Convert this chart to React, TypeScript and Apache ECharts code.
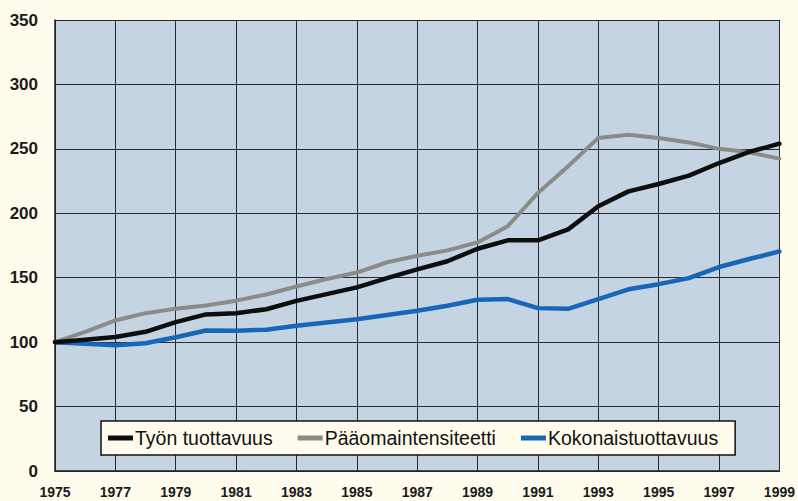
import React, { useEffect, useRef } from "react";
import * as echarts from "echarts";

const years = [
  "1975", "1976", "1977", "1978", "1979", "1980", "1981", "1982", "1983", "1984",
  "1985", "1986", "1987", "1988", "1989", "1990", "1991", "1992", "1993", "1994",
  "1995", "1996", "1997", "1998", "1999",
];

const tyonTuottavuus = [
  100, 101.8, 104, 108, 115.5, 121.5, 122.5, 125.5, 132, 137.3,
  142.5, 149.7, 156.5, 162.8, 172.5, 179, 179, 187.5, 205.5, 217,
  222.7, 229.2, 239, 247.6, 254,
];

const paaomaintensiteetti = [
  100, 108, 116.8, 122.5, 126, 128.5, 132.2, 137, 143.2, 149,
  154, 162, 167, 171.2, 177.4, 190, 215.8, 236.5, 258.5, 261,
  258.5, 255, 250, 247.3, 242.4,
];

const kokonaistuottavuus = [
  100, 98.7, 97.6, 99.2, 103.8, 109, 108.8, 109.7, 112.7, 115.2,
  117.8, 121, 124.3, 128.2, 132.9, 133.4, 126.4, 125.9, 133.4, 141,
  145, 149.7, 158.3, 164.5, 170.4,
];

const seriesNames = ["Työn tuottavuus", "Pääomaintensiteetti", "Kokonaistuottavuus"];
const seriesColors = ["#0e0e0e", "#8b8b87", "#1766b8"];

const FONT = "'Liberation Sans', Arial, sans-serif";

export default function App() {
  const ref = useRef<HTMLDivElement>(null);

  useEffect(() => {
    document.body.style.margin = "0";
    document.body.style.background = "#fffcee";
    if (!ref.current) return;
    const chart = echarts.init(ref.current, undefined, { renderer: "svg" });
    const data = [tyonTuottavuus, paaomaintensiteetti, kokonaistuottavuus];
    chart.setOption({
      animation: false,
      backgroundColor: "#fffcee",
      grid: {
        left: 55,
        right: 17,
        top: 20,
        bottom: 30,
        show: true,
        backgroundColor: "#c5d4e2",
        borderWidth: 0,
      },
      xAxis: {
        type: "category",
        data: years,
        boundaryGap: false,
        axisLine: { show: true, lineStyle: { color: "#222", width: 1.5 } },
        axisTick: { show: false },
        axisLabel: {
          interval: 1,
          margin: 14,
          color: "#1a1a1a",
          fontFamily: FONT,
          fontWeight: "bold",
          fontSize: 14,
        },
        splitLine: { show: true, interval: 1, lineStyle: { color: "#2a2a2a", width: 1 } },
      },
      yAxis: {
        type: "value",
        min: 0,
        max: 350,
        interval: 50,
        axisLine: { show: true, lineStyle: { color: "#222", width: 1.5 } },
        axisTick: { show: false },
        axisLabel: {
          margin: 17,
          color: "#1a1a1a",
          fontFamily: FONT,
          fontWeight: "bold",
          fontSize: 17,
        },
        splitLine: { show: true, lineStyle: { color: "#2a2a2a", width: 1 } },
      },
      legend: {
        left: 101,
        top: 421,
        orient: "horizontal",
        backgroundColor: "#fffcee",
        borderColor: "#111",
        borderWidth: 1.5,
        borderRadius: 0,
        padding: [7, 17, 7, 7],
        itemGap: 25,
        itemWidth: 25,
        itemHeight: 5,
        icon: "rect",
        data: seriesNames,
        textStyle: {
          fontFamily: FONT,
          fontSize: 19.5,
          color: "#111",
          padding: [0, 0, 0, -3],
        },
      },
      series: seriesNames.map((name, i) => ({
        name,
        type: "line",
        data: data[i],
        showSymbol: false,
        symbol: "none",
        z: 3 - i,
        itemStyle: { color: seriesColors[i] },
        lineStyle: {
          color: seriesColors[i],
          width: i === 1 ? 4 : 4.5,
          cap: "round",
          join: "round",
        },
      })),
    });
    return () => chart.dispose();
  }, []);

  return <div ref={ref} style={{ width: 798, height: 501 }} />;
}
